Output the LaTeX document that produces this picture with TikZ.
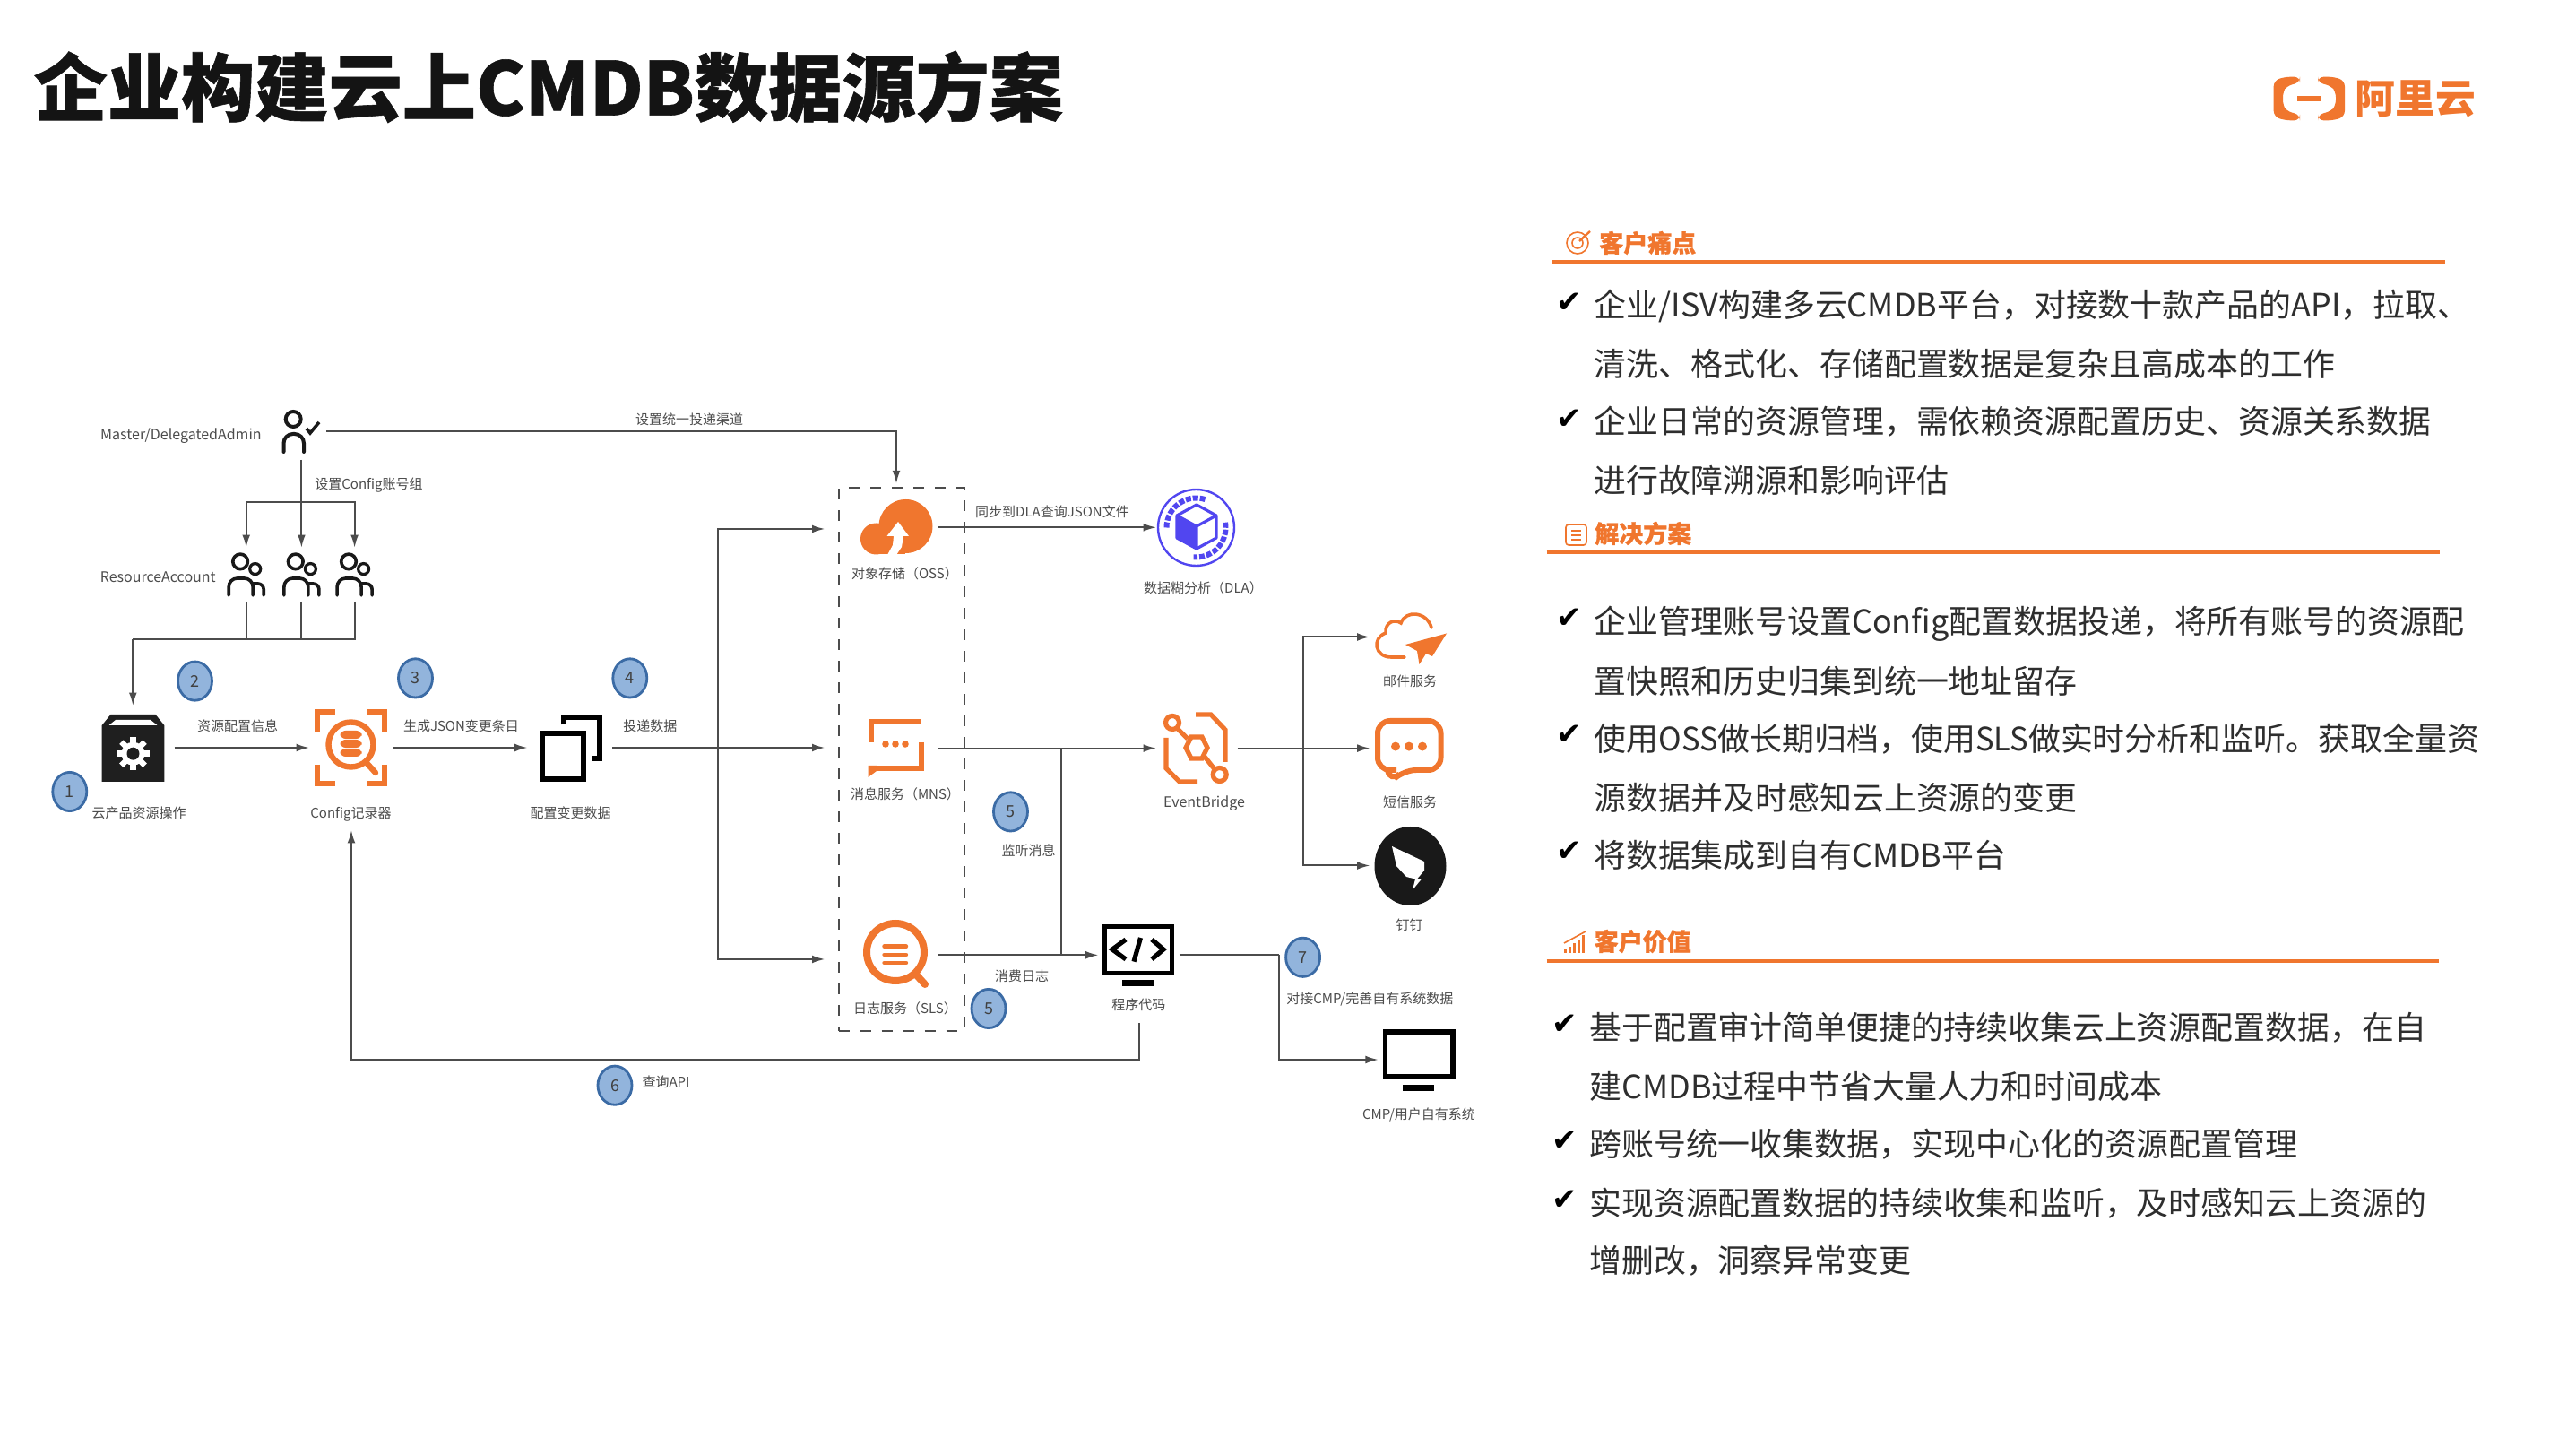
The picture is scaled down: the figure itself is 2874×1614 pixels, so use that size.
\documentclass[tikz,border=0pt]{standalone}
\usepackage{fontspec}
\usepackage{xcolor}
\setmainfont{Noto Sans CJK SC}
\newfontfamily\symfont{DejaVu Sans}
\newfontfamily\headfont[BoldFeatures={FakeBold=0.7}]{Noto Sans CJK SC}
\newcommand{\narrowlat}[1]{\scalebox{0.96}[1]{#1}}
\usetikzlibrary{arrows.meta,shapes.geometric}
\definecolor{aliorange}{HTML}{F0762E}
\definecolor{dlablue}{HTML}{5146F0}
\definecolor{stepfill}{HTML}{92B4DC}
\definecolor{stepline}{HTML}{3B6BA5}
\definecolor{wiregray}{HTML}{4C4C4C}
\tikzset{
  icon/.style={inner sep=0pt, outer sep=0pt, minimum width=#1},
  lbl/.style={font=\fontsize{3.75}{4.4}\selectfont, text=black!70, inner sep=0pt, text height=3.9pt, text depth=0.8pt},
  latlbl/.style={lbl, font=\fontsize{4}{4.6}\selectfont},
  stepno/.style={ellipse, draw=stepline, line width=0.7pt, fill=stepfill, minimum width=9.5pt,
                 minimum height=10.8pt, inner sep=0pt, font=\fontsize{4.5}{5}\selectfont, text=black!75},
  conn/.style={draw=wiregray, line width=0.5pt},
  connarrow/.style={conn, -{Latex[length=3.6pt,width=2.2pt]}},
  headtxt/.style={font=\headfont\fontsize{6.75}{8}\selectfont\bfseries, text=aliorange, anchor=west, inner sep=0pt},
  bodytxt/.style={font=\fontsize{8.98}{11}\selectfont, text=black!82, anchor=west, inner sep=0pt, text height=8.8pt, text depth=2pt},
  tick/.style={font=\symfont\fontsize{8.5}{10}\selectfont, text=black, inner sep=0pt},
  rule/.style={aliorange, line width=1pt},
  orline/.style={aliorange, line width=1.3pt},
  blkline/.style={black!90, line width=1.4pt}
}

\begin{document}
\begin{tikzpicture}[x=0.25pt, y=-0.25pt]
\useasboundingbox (0,0) rectangle (2874,1614);
\fill[white] (0,0) rectangle (2874,1614);

% title and logo
\node[font=\headfont\fontsize{20.55}{24}\selectfont\bfseries, text=black!92, anchor=west, inner sep=0pt] (title) at (37,97) {企业构建云上CMDB数据源方案};
\fill[aliorange, rounded corners=1.6pt] (2566,85.7) -- (2549,85.7) -- (2536.7,90) -- (2536.7,130) -- (2549,134.3) -- (2566,134.3) -- (2566,128) -- (2551,124) -- (2547,118) -- (2547,102) -- (2551,96) -- (2566,92) -- cycle;
\fill[aliorange, rounded corners=1.6pt] (2586,85.7) -- (2604,85.7) -- (2616,90) -- (2616,130) -- (2604,134.3) -- (2586,134.3) -- (2586,128) -- (2601,124) -- (2606,118) -- (2606,102) -- (2601,96) -- (2586,92) -- cycle;
\fill[aliorange] (2563,107) rectangle (2590,113);
\node[font=\fontsize{11.2}{13}\selectfont\bfseries, text=aliorange, anchor=west, inner sep=0pt] (logotxt) at (2627,110) {阿里云};

% connection boxes of the icons
\node[icon=13.8pt, minimum height=15.8pt] (admin) at (336.4,481.4) {};
\node[icon=10pt, minimum height=15pt] (acct1) at (274.7,641) {};
\node[icon=10pt, minimum height=15pt] (acct2) at (336.4,641) {};
\node[icon=10pt, minimum height=15pt] (acct3) at (395.6,641) {};
\node[icon=23.2pt, minimum height=23.5pt] (resbox) at (148.3,834) {};
\node[icon=23.5pt, minimum height=46pt] (cfgrec) at (392,834) {};
\node[icon=23.6pt, minimum height=19pt] (chgdata) at (635.8,834) {};
\node[icon=23.2pt, minimum height=15pt] (oss) at (1000,588.3) {};
\node[icon=23.2pt, minimum height=15pt] (mns) at (1000,834.6) {};
\node[icon=23.2pt, minimum height=15pt] (sls) at (1000,1065.3) {};
\node[icon=22.2pt, minimum height=22pt] (dla) at (1334.5,588.3) {};
\node[icon=22.6pt, minimum height=20pt] (evbridge) at (1335.3,834.6) {};
\node[icon=22.2pt, minimum height=15pt] (mailsvc) at (1573,710.5) {};
\node[icon=22.2pt, minimum height=15pt] (smssvc) at (1573,834.6) {};
\node[icon=22.2pt, minimum height=15pt] (dingtalk) at (1573,965.5) {};
\node[icon=22.6pt, minimum height=38pt] (prog) at (1270.7,1065.3) {};
\node[icon=22.2pt, minimum height=15pt] (cmpsys) at (1582.2,1182) {};
\coordinate (stgtop) at (1000,539.4);
\coordinate (adminbus) at (336.4,560.4);
\coordinate (acctbus) at (148.3,713);
\coordinate (fanout) at (801,834);
\coordinate (ossin) at (920.4,590);
\coordinate (mnsin) at (920.4,834);
\coordinate (slsin) at (920.4,1070);
\coordinate (mnsdrop) at (1183.7,834.6);
\coordinate (ebfan) at (1453.6,834.6);
\coordinate (cmpbend) at (1426.5,1065.3);

% storage group
\node[draw=black!70, dashed, line width=0.4pt, minimum width=35.1pt, minimum height=151.5pt, inner sep=0pt] (stggroup) at (1005.9,847) {};

% connectors
\draw[connarrow] (admin.east) -| (stgtop);
\draw[connarrow] (admin.south) -- (acct2.north);
\draw[connarrow] (adminbus) -| (acct1.north);
\draw[connarrow] (adminbus) -| (acct3.north);
\draw[conn] (acct1.south) -- (acct1.south |- acctbus);
\draw[conn] (acct2.south) -- (acct2.south |- acctbus);
\draw[conn] (acct3.south) |- (acctbus);
\draw[connarrow] (acctbus) -- (resbox.north);
\draw[connarrow] (resbox.east) -- (cfgrec.west);
\draw[connarrow] (cfgrec.east) -- (chgdata.west);
\draw[connarrow] (chgdata.east) -- (mnsin);
\draw[connarrow] (fanout) |- (ossin);
\draw[connarrow] (fanout) |- (slsin);
\draw[connarrow] (oss.east) -- (dla.west);
\draw[connarrow] (mns.east) -- (evbridge.west);
\draw[conn] (mnsdrop) -- (mnsdrop |- sls.east);
\draw[connarrow] (sls.east) -- (prog.west);
\draw[connarrow] (evbridge.east) -- (smssvc.west);
\draw[connarrow] (ebfan) |- (mailsvc.west);
\draw[connarrow] (ebfan) |- (dingtalk.west);
\draw[conn] (prog.east) -- (cmpbend);
\draw[connarrow] (cmpbend) |- (cmpsys.west);
\draw[connarrow] (prog.south) -- ++(0,41.2) -| (cfgrec.south);

% admin and account icons
\draw[black!90, line width=1pt] (327.2,467.5) circle (8.5);
\draw[black!90, line width=1pt, rounded corners=2.6pt, line cap=round] (316.5,504) -- (316.5,484) -- (339,484) -- (339,504);
\draw[black!90, line width=0.9pt] (342,478) -- (346,483) -- (356,471);
\foreach \c in {274.7,336.4,395.6}{
  \draw[black!90, line width=0.9pt] (\c-6.6,626.4) circle (8.3);
  \draw[black!90, line width=0.8pt] (\c+10,634.6) circle (6);
  \draw[black!90, line width=0.9pt, rounded corners=2.4pt, line cap=round] (\c-19.5,664) -- (\c-19.5,645) -- (\c+7.5,645) -- (\c+7.5,664);
  \draw[black!90, line width=0.9pt, rounded corners=1.6pt, line cap=round] (\c+7.5,651) -- (\c+19.5,651) -- (\c+19.5,664);
}

% resource box
\fill[black!88] (123.5,797) -- (173.5,797) -- (183.3,809) -- (183.3,872) -- (113.7,872) -- (113.7,809) -- cycle;
\fill[white] (121.5,809) -- (129,803) -- (168,803) -- (175.5,809) -- cycle;
\foreach \a in {0,45,...,315}
  \draw[white, line width=1.6pt] (148.5,840.7) ++(\a:10) -- ++(\a:8.5);
\fill[white] (148.5,840.7) circle (13);
\fill[black!88] (148.5,840.7) circle (7);

% config recorder
\draw[orline] (354,816) -- (354,794) -- (374,794);
\draw[orline] (429,816) -- (429,794) -- (409,794);
\draw[orline] (354,853) -- (354,874) -- (374,874);
\draw[orline] (429,853) -- (429,874) -- (409,874);
\draw[aliorange, line width=1.6pt] (391.5,830.5) circle (25);
\draw[aliorange, line width=1.6pt, line cap=round] (410,852) -- (419,862);
\foreach \yy in {820,830,840}
  \fill[aliorange, rounded corners=1.5pt] (379.5,\yy-5) rectangle (403.5,\yy+4);

% change data
\draw[black, line width=1.5pt] (605,818.5) rectangle (651,869);
\draw[black, line width=1.5pt] (629,808.5) -- (629,800) -- (669,800) -- (669,846.5) -- (660,846.5);

% object storage
\fill[aliorange] (1010.5,587) circle (30);
\fill[aliorange] (977.5,601) circle (17.5);
\fill[aliorange] (977.5,600) rectangle (1010,618.5);
\fill[white] (1002,582) -- (1014,598) -- (1008,598) -- (1006,610) -- (1000,619) -- (990,619) -- (996,608) -- (997,598) -- (989.5,598) -- cycle;

% log service
\draw[aliorange, line width=2pt] (999,1062) circle (32);
\draw[aliorange, line width=2pt, line cap=round] (1022,1087) -- (1032,1098);
\foreach \yy in {1055.6,1065,1074}
  \draw[aliorange, line width=1.1pt, line cap=round] (986.5,\yy) -- (1011,\yy);

% message service
\draw[orline, line width=1.5pt] (1027,805) -- (971.5,805) -- (971.5,828);
\draw[orline, line width=1.5pt] (1027.5,828) -- (1027.5,857) -- (971.5,857);
\fill[aliorange] (968.5,854) -- (978,854) -- (978,860) -- (968.5,867) -- cycle;
\foreach \xx in {988,999,1010}
  \fill[aliorange] (\xx,830) circle (3.8);

% data lake
\draw[dlablue, line width=0.6pt] (1334.5,588.5) circle (42.5);
\draw[dlablue, line width=1.5pt, dash pattern=on 1.5pt off 0.5pt] (1334.5,588.5) ++(180:33) arc[start angle=180, end angle=290, radius=33];
\draw[dlablue, line width=1.5pt, dash pattern=on 1.5pt off 0.5pt] (1334.5,588.5) ++(-10:33) arc[start angle=-10, end angle=95, radius=33];
\fill[dlablue] (1313,575) -- (1335,587) -- (1335,612) -- (1313,600) -- cycle;
\draw[dlablue, line width=0.8pt, line join=round] (1335,563) -- (1357,575) -- (1357,600) -- (1335,612) -- (1313,600) -- (1313,575) -- cycle;
\draw[dlablue, line width=0.8pt, line join=round] (1313,575) -- (1335,587) -- (1357,575) (1335,587) -- (1335,612);

% event bridge
\draw[aliorange, line width=1.3pt] (1308,806) circle (7.5);
\draw[aliorange, line width=1.3pt] (1360.7,864) circle (7.5);
\draw[aliorange, line width=1.3pt] (1323,834) -- (1329,822) -- (1341,822) -- (1347,834) -- (1341,846) -- (1329,846) -- cycle;
\draw[aliorange, line width=1.3pt] (1313,812) -- (1325,824) (1344,844) -- (1355,858);
\draw[aliorange, line width=1.3pt] (1334,797) -- (1351,797) -- (1367,814) -- (1367,850);
\draw[aliorange, line width=1.3pt] (1301,823) -- (1301,857) -- (1316,872) -- (1336,872);

% mail service
\draw[aliorange, line width=0.9pt, line cap=round] (1567,733) -- (1552,733) .. controls (1534,733) and (1530,712) .. (1546,706) .. controls (1545,694) and (1556,690) .. (1563,695) .. controls (1568,680) and (1592,682) .. (1597,700);
\fill[aliorange] (1614,706.5) -- (1568,719) -- (1581,726) -- (1583.5,741) -- (1591,729) -- (1598,732) -- cycle;

% sms service
\draw[aliorange, line width=1.5pt, rounded corners=3.5pt] (1558,859) -- (1537,859) -- (1537,804) -- (1607.5,804) -- (1607.5,859) -- (1566,859) -- (1551,873) -- (1548,859);
\foreach \xx in {1557,1572,1587}
  \fill[aliorange] (\xx,832.6) circle (5);

% dingtalk
\fill[black!90] (1573.5,966) ellipse [x radius=40, y radius=44];
\fill[white] (1553,944) -- (1589,961) -- (1589,971) -- (1581,980.5) -- (1586,980.5) -- (1576,992.6) -- (1579,980.5) -- (1569,978) -- (1558,966) -- cycle;

% program and system screens
\draw[black, line width=1.4pt] (1232.5,1033.5) rectangle (1307.5,1085.5);
\fill[black] (1252,1093) rectangle (1288,1100);
\draw[black, line width=1.3pt] (1256,1048) -- (1241,1059) -- (1256,1070);
\draw[black, line width=1.3pt] (1285,1048) -- (1298,1059) -- (1285,1070);
\draw[black, line width=1.3pt] (1272.5,1046) -- (1265,1072.6);
\draw[black, line width=1.4pt] (1545.5,1151) rectangle (1621,1201);
\fill[black] (1565,1210) rectangle (1600,1216.6);

% icon captions
\node[latlbl, anchor=east] (adminlbl) at (292.5,484) {Master/DelegatedAdmin};
\node[latlbl, anchor=east] (acctlbl) at (241.5,643) {ResourceAccount};
\node[lbl] (reslbl) at (155,906.5) {云产品资源操作};
\node[lbl] (cfglbl) at (391.5,906.5) {Config记录器};
\node[lbl] (chglbl) at (636.6,906.5) {配置变更数据};
\node[lbl] (osslbl) at (1009.5,639.7) {对象存储（OSS）};
\node[lbl] (mnslbl) at (1010,885) {消息服务（MNS）};
\node[lbl] (slslbl) at (1010,1124.5) {日志服务（SLS）};
\node[lbl] (dlalbl) at (1342.5,655.7) {数据糊分析（DLA）};
\node[latlbl] (eblbl) at (1343.5,894.7) {EventBridge};
\node[lbl] (maillbl) at (1573,759) {邮件服务};
\node[lbl] (smslbl) at (1573,894.7) {短信服务};
\node[lbl] (dinglbl) at (1572.5,1031.4) {钉钉};
\node[lbl] (proglbl) at (1270.3,1120) {程序代码};
\node[lbl] (cmplbl) at (1583,1242) {CMP/用户自有系统};

% connector captions
\node[lbl] (deliverlbl) at (769,467.5) {设置统一投递渠道};
\node[lbl] (grouplbl) at (411.5,539.6) {设置Config账号组};
\node[lbl] (infolbl) at (265,809) {资源配置信息};
\node[lbl] (jsonlbl) at (514.5,809) {生成JSON变更条目};
\node[lbl] (sendlbl) at (725.3,809) {投递数据};
\node[lbl] (synclbl) at (1174,570) {同步到DLA查询JSON文件};
\node[lbl] (listenlbl) at (1147.5,948) {监听消息};
\node[lbl] (consumelbl) at (1140,1088) {消费日志};
\node[lbl] (apilbl) at (743,1206) {查询API};
\node[lbl] (cmplink) at (1528.3,1113.8) {对接CMP/完善自有系统数据};

% step numbers
\node[stepno] (n1) at (77.8,883) {1};
\node[stepno] (n2) at (217.5,759.6) {2};
\node[stepno] (n3) at (463.5,756.4) {3};
\node[stepno] (n4) at (702.8,756.4) {4};
\node[stepno] (n5a) at (1127.5,905.4) {5};
\node[stepno] (n5b) at (1103,1125) {5};
\node[stepno] (n6) at (686,1210.7) {6};
\node[stepno] (n7) at (1453.6,1067.8) {7};

% pain points
\draw[aliorange, line width=0.4pt] (1760,271) circle (12);
\draw[aliorange, line width=0.4pt] (1760,271) circle (6);
\draw[aliorange, line width=0.6pt] (1762,269) -- (1774,258);
\node[headtxt] (painhd) at (1783.5,271) {客户痛点};
\draw[rule] (1731,292) -- (2727.6,292);
\node[tick] (tk1) at (1751,338) {✔};
\node[bodytxt] (pain1) at (1778,340) {企业/ISV构建多云CMDB平台，对接数十款产品的API，拉取、};
\node[bodytxt] (pain2) at (1778,405.5) {清洗、格式化、存储配置数据是复杂且高成本的工作};
\node[tick] (tk2) at (1751,468) {✔};
\node[bodytxt] (pain3) at (1778,470) {企业日常的资源管理，需依赖资源配置历史、资源关系数据};
\node[bodytxt] (pain4) at (1778,535.5) {进行故障溯源和影响评估};

% solution
\draw[aliorange, line width=0.4pt, rounded corners=0.8pt] (1747,585) rectangle (1770,608);
\draw[aliorange, line width=0.4pt] (1753,592) -- (1764,592) (1753,597) -- (1764,597) (1753,602) -- (1764,602);
\node[headtxt] (solhd) at (1778.5,595) {解决方案};
\draw[rule] (1725.5,616.3) -- (2721.8,616.3);
\node[tick] (tk3) at (1751,690) {✔};
\node[bodytxt] (sol1) at (1778,692.5) {企业管理账号设置Config配置数据投递，将所有账号的资源配};
\node[bodytxt] (sol2) at (1778,760) {置快照和历史归集到统一地址留存};
\node[tick] (tk4) at (1751,820) {✔};
\node[bodytxt] (sol3) at (1778,823.7) {使用\narrowlat{OSS}做长期归档，使用\narrowlat{SLS}做实时分析和监听。获取全量资};
\node[bodytxt] (sol4) at (1778,890) {源数据并及时感知云上资源的变更};
\node[tick] (tk5) at (1751,950) {✔};
\node[bodytxt] (sol5) at (1778,953.8) {将数据集成到自有CMDB平台};

% value
\foreach \xx/\hh in {1745/4,1750/7,1755/11,1760/15,1765/20}
  \fill[aliorange] (\xx,1063-\hh) rectangle (\xx+2.5,1063);
\draw[aliorange, line width=0.4pt] (1745,1052) -- (1769,1039);
\node[headtxt] (valhd) at (1778,1050) {客户价值};
\draw[rule] (1725.5,1072) -- (2721,1072);
\node[tick] (tk6) at (1746,1142.5) {✔};
\node[bodytxt] (val1) at (1772.5,1146) {基于配置审计简单便捷的持续收集云上资源配置数据，在自};
\node[bodytxt] (val2) at (1772.5,1212) {建CMDB过程中节省大量人力和时间成本};
\node[tick] (tk7) at (1746,1272.5) {✔};
\node[bodytxt] (val3) at (1772.5,1276) {跨账号统一收集数据，实现中心化的资源配置管理};
\node[tick] (tk8) at (1746,1338.5) {✔};
\node[bodytxt] (val4) at (1772.5,1342) {实现资源配置数据的持续收集和监听，及时感知云上资源的};
\node[bodytxt] (val5) at (1772.5,1406) {增删改，洞察异常变更};
\end{tikzpicture}
\end{document}
